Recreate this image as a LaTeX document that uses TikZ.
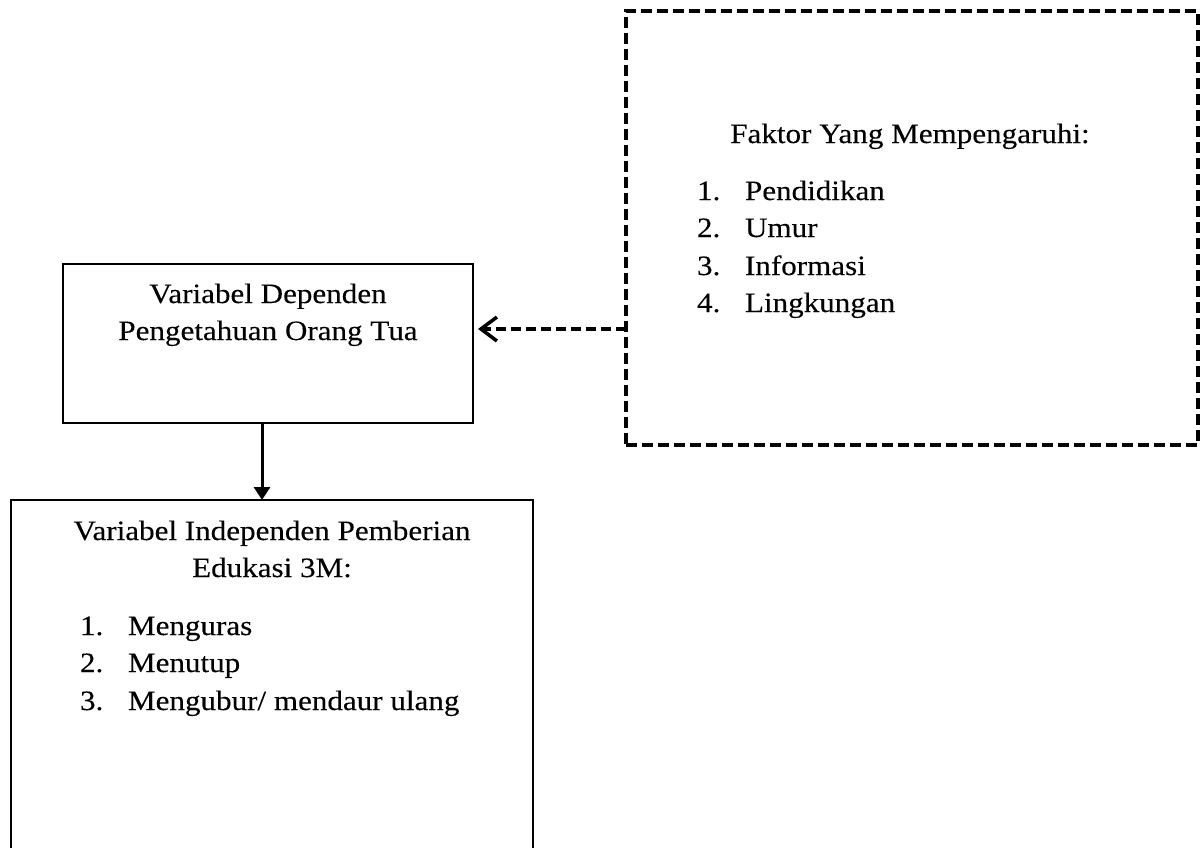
\documentclass[tikz,border=0pt]{standalone}
\usepackage{fontspec}
\setmainfont{Liberation Serif}[FakeStretch=1.11,FakeBold=0.2]
\usetikzlibrary{arrows.meta}
\begin{document}
\begin{tikzpicture}[x=1bp,y=-1bp,
  solidbox/.style={draw=black, line width=2.4bp, rectangle, inner sep=0pt, outer sep=0pt},
  dashbox/.style={draw=black, line width=3.2bp, dash pattern=on 11bp off 5bp, rectangle, inner sep=0pt, outer sep=0pt},
  txt/.style={inner sep=0pt, outer sep=0pt, font=\fontsize{28bp}{37bp}\selectfont, anchor=base},
  txtl/.style={txt, anchor=base west},
  solidarrow/.style={line width=3bp, -{Triangle[length=13bp,width=16bp]}},
  dasharrow/.style={line width=3.2bp, dash pattern=on 10bp off 5bp, shorten >=5bp, -{Straight Barb[length=16bp,width=24bp,line width=3.5bp]}}
]
\useasboundingbox (0,0) rectangle (1200,848);
\clip (0,0) rectangle (1200,848);
\fill[white] (0,0) rectangle (1200,848);

% boxes
\node[solidbox, minimum width=410bp, minimum height=159bp] (dep) at (268,343.5) {};
\node[solidbox, minimum width=522bp, minimum height=400bp] (ind) at (272,700) {};
\node[dashbox, minimum width=572bp, minimum height=434bp] (fak) at (912,228) {};

% texts: dependent
\node[txt] (d1) at (268,303) {Variabel Dependen};
\node[txt] (d2) at (268,340) {Pengetahuan Orang Tua};

% texts: factors
\node[txt] (f0) at (910,143) {Faktor Yang Mempengaruhi:};
\node[txtl] (fn1) at (697,200) {1.};
\node[txtl] (fi1) at (745,200) {Pendidikan};
\node[txtl] (fn2) at (697,237) {2.};
\node[txtl] (fi2) at (745,237) {Umur};
\node[txtl] (fn3) at (697,275) {3.};
\node[txtl] (fi3) at (745,275) {Informasi};
\node[txtl] (fn4) at (697,312) {4.};
\node[txtl] (fi4) at (745,312) {Lingkungan};

% texts: independent
\node[txt] (i1) at (272,540) {Variabel Independen Pemberian};
\node[txt] (i2) at (272,577) {Edukasi 3M:};
\node[txtl] (in1) at (80,635) {1.};
\node[txtl] (ii1) at (128,635) {Menguras};
\node[txtl] (in2) at (80,672) {2.};
\node[txtl] (ii2) at (128,672) {Menutup};
\node[txtl] (in3) at (80,710) {3.};
\node[txtl] (ii3) at (128,710) {Mengubur/ mendaur ulang};

% connectors
\coordinate (dsrc) at ([xshift=-6bp]dep.south);
\draw[solidarrow] (dsrc) -- (dsrc |- ind.north);
\coordinate (fsrc) at (fak.west |- 0,329);
\draw[dasharrow] (fsrc) -- (dep.east |- fsrc);
\end{tikzpicture}
\end{document}
